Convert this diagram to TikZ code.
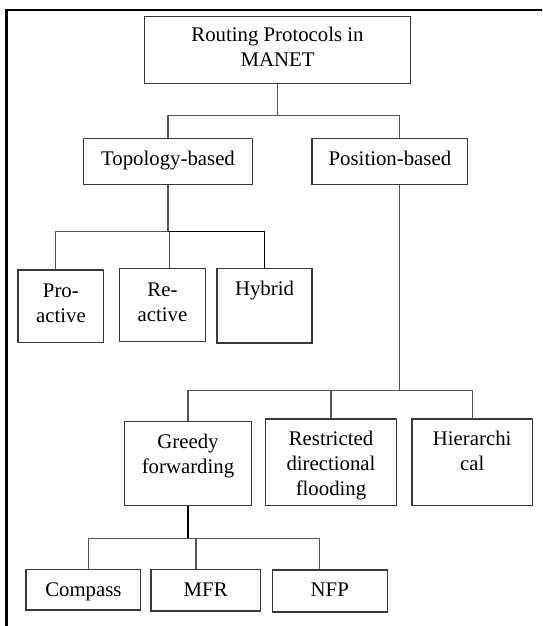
\documentclass[tikz,border=0pt]{standalone}
\usepackage{fontspec}
\setmainfont{Liberation Serif}
\definecolor{boxc}{HTML}{3A3A3A}
\definecolor{linec}{HTML}{555555}
% box: name, centre x, centre y, width, height, first-baseline offset, text
\newcommand\bx[7]{%
  \node[box, minimum width=#4pt, minimum height=#5pt,
    label={[anchor=base, yshift=-#6pt, inner sep=0pt, label distance=0pt]north:{\begin{tabular}[t]{@{}c@{}}#7\end{tabular}}}]
    (#1) at (#2,#3) {};}
\begin{document}
\begin{tikzpicture}[x=1pt, y=-1pt,
  font=\fontsize{20.8}{25}\selectfont,
  box/.style={draw=boxc, line width=1.3pt, inner sep=0pt},
  conn/.style={draw=linec, line width=1.2pt},
  connb/.style={draw=black, line width=1.7pt}]
\useasboundingbox (0,0) rectangle (542,626);
% outer frame (top and left edges)
\draw[line width=2.6pt] (6.5,626) -- (6.5,10) -- (542,10);

% boxes
\bx{root}{277.5}{50}{266}{67}{25.5}{Routing Protocols in\\MANET}
\bx{topo}{168}{161.4}{168.7}{46}{27.4}{Topology-based}
\bx{pos}{389.9}{161.4}{155.6}{46}{27.4}{Position-based}
\bx{pro}{60.9}{306.3}{85.7}{72.7}{28}{Pro-\\active}
\bx{re}{162.5}{305.2}{85.7}{73}{28}{Re-\\active}
\bx{hyb}{264.5}{305.9}{95}{74.3}{27}{Hybrid}
\bx{greedy}{188}{463.7}{127.2}{84}{27.3}{Greedy\\forwarding}
\bx{restr}{331}{462.3}{131}{86.7}{27}{Restricted\\directional\\flooding}
\bx{hier}{472.2}{462.3}{120.3}{86.7}{27}{Hierarchi\\cal}
\bx{compass}{83.4}{589.7}{114.7}{40.7}{27.4}{Compass}
\bx{mfr}{205.7}{590.3}{109.3}{41.5}{27.4}{MFR}
\bx{nfp}{329.8}{591}{114.7}{42}{27.4}{NFP}

% root to first level
\draw[conn] (root.south) -- ++(0,31.5) coordinate (j0);
\draw[conn] (topo.north) |- (j0) -| ([xshift=9.3pt]pos.north);

% topology-based branches
\draw[conn] (topo.south) -- ++(0,46.5) coordinate (j1);
\draw[conn] ([xshift=-5.6pt]pro.north) |- (j1);
\draw[conn] ([xshift=6.9pt]re.north) -- ([xshift=6.9pt]re.north |- j1);
\draw[connb] (j1) -| (hyb.north);

% position-based branches
\draw[conn] ([xshift=9.3pt]pos.south) -- ++(0,205.5) coordinate (j2);
\draw[conn] (greedy.north) |- (j2) -| (hier.north);
\draw[conn] (restr.north) -- (restr.north |- j2);

% greedy forwarding branches
\draw[connb] (greedy.south) -- ++(0,32.5) coordinate (j3);
\draw[conn] ([xshift=4.7pt]compass.north) |- (j3) -| ([xshift=-10.1pt]nfp.north);
\draw[conn] ([xshift=-9.7pt]mfr.north) -- ([xshift=-9.7pt]mfr.north |- j3);
\end{tikzpicture}
\end{document}
